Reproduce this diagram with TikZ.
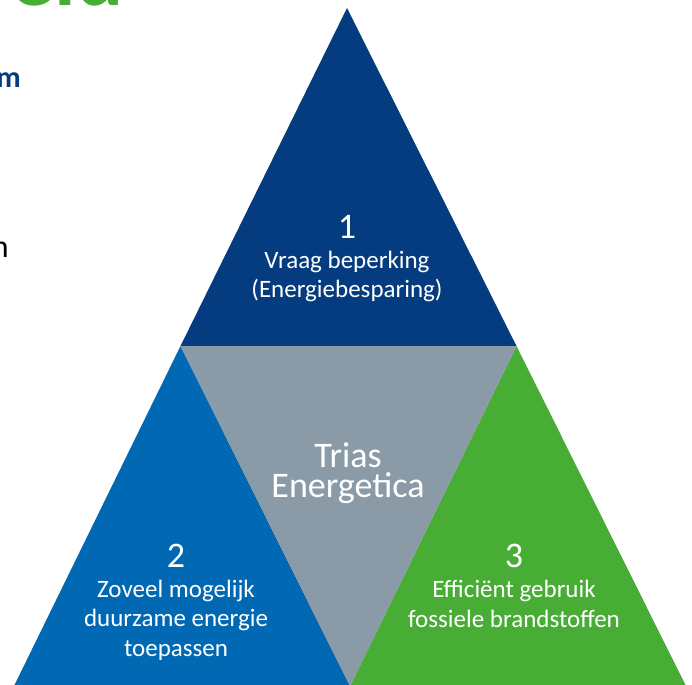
\documentclass[tikz,border=0pt]{standalone}
\usepackage{fontspec}
\setmainfont{Carlito}
\usetikzlibrary{positioning}
\definecolor{navy}{HTML}{053C7F}
\definecolor{midblue}{HTML}{0168B3}
\definecolor{slate}{HTML}{8A9BA7}
\definecolor{leaf}{HTML}{48AD35}
\tikzset{
    digit/.style ={
        text=white,
        inner sep=0pt,
        font=\fontsize{36}{36}\selectfont
    },
    desc/.style ={
        text=white,
        inner sep=0pt,
        align=center,
        font=\fontsize{25}{29.5}\selectfont
    },
    trias/.style ={
        text=white,
        inner sep=0pt,
        anchor=base,
        font=\fontsize{36}{36}\selectfont
    },
    cut/.style ={
        inner sep=0pt,
        anchor=base east
    }
}

\begin{document}
\begin{tikzpicture}[x=1pt,y=-1pt]
    \clip (0,0) rectangle (692,684);
    \coordinate (apex) at(347,8);
    \coordinate (bl) at(14,686);
    \coordinate (br) at(686,686);
    \coordinate (ml) at(180.5,346);
    \coordinate (mr) at(516.5,346);
    \coordinate (mb) at(350,686);
    \fill[navy] (apex) -- (ml) -- (mr) -- cycle;
    \fill[midblue] (ml) -- (bl) -- (mb) -- cycle;
    \fill[leaf] (mr) -- (mb) -- (br) -- cycle;
    \fill[slate] (ml) -- (mr) -- (mb) -- cycle;
    \node[cut,anchor=base west,text=leaf,font=\bfseries\fontsize{88}{88}\selectfont] (head) at(10,6) {eld};
    \node[cut,text=navy,font=\bfseries\fontsize{30}{30}\selectfont] (lead) at(21,88) {m};
    \node[cut,font=\fontsize{32}{32}\selectfont] (body) at(9,258) {n};
    \node[digit] (1) at(347,227) {1};
    \node[digit] (2) at(176,556) {2};
    \node[digit] (3) at(514,556) {3};
    \node[desc,below=12pt of 1] {Vraag beperking\\(Energiebesparing)};
    \node[desc,below=12pt of 2] {Zoveel mogelijk\\duurzame energie\\toepassen};
    \node[desc,below=12pt of 3] {Efficiënt gebruik\\fossiele brandstoffen};
    \node[trias] (trias) at(348,467) {Trias};
    \node[trias] (energetica) at(348,497) {Energetica};
\end{tikzpicture}
\end{document}
